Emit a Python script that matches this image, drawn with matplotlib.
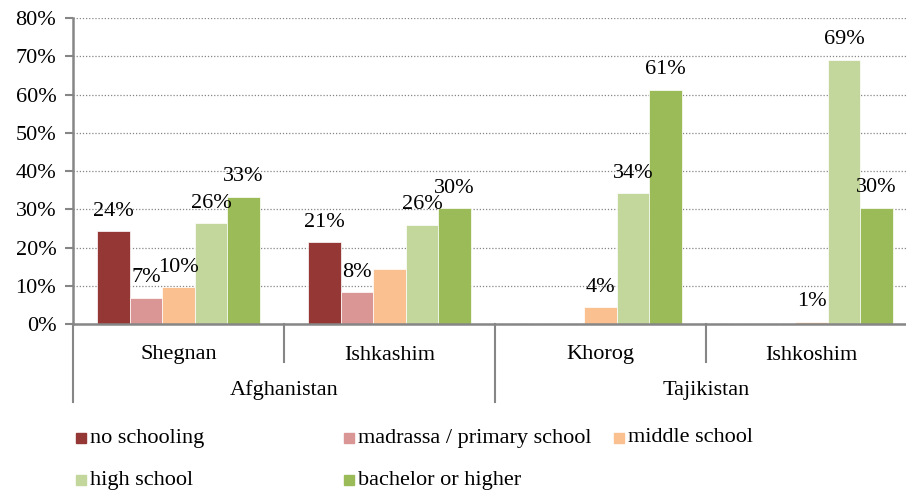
import matplotlib.pyplot as plt
from matplotlib.patches import Rectangle
from matplotlib.ticker import FuncFormatter
import numpy as np

plt.rcParams['font.family'] = ['Liberation Serif', 'DejaVu Serif']

countries = ["Afghanistan", "Tajikistan"]
districts = ["Shegnan", "Ishkashim", "Khorog", "Ishkoshim"]
series = ["no schooling", "madrassa / primary school", "middle school",
          "high school", "bachelor or higher"]
colors = ["#953735", "#D99694", "#FAC090", "#C3D69B", "#9BBB59"]

# percent per district, one list per series
no_schooling = [24.3, 21.4, 0, 0]
madrassa = [6.9, 8.3, 0, 0]
middle_school = [9.7, 14.4, 4.4, 0.6]
high_school = [26.3, 26.0, 34.2, 69.1]
bachelor = [33.3, 30.2, 61.3, 30.4]
values = [no_schooling, madrassa, middle_school, high_school, bachelor]

# which data labels are shown in the original
show_label = [
    [True, True, False, False],
    [True, True, False, False],
    [True, False, True, True],
    [True, True, True, True],
    [True, True, True, True],
]

W, H = 906, 493
fig = plt.figure(figsize=(W / 100, H / 100), dpi=100)
x0, x1, y0, y1 = 73, 917, 324, 18
ax = fig.add_axes([x0 / W, 1 - y0 / H, (x1 - x0) / W, (y0 - y1) / H])

grey = "#868686"
bw = 0.154
x = np.arange(len(districts))
for i, (vals, col) in enumerate(zip(values, colors)):
    pos = x + (i - 2) * bw
    ax.bar(pos, vals, width=bw, color=col, edgecolor="white", linewidth=0.5, zorder=3)
    for p, v, s in zip(pos, vals, show_label[i]):
        if s:
            ax.annotate(f"{round(v)}%", (p, v), xytext=(0, 11), textcoords="offset points",
                        ha="center", va="baseline", fontsize=16, zorder=4)

ax.set_xlim(-0.5, len(districts) - 0.5)
ax.set_ylim(0, 80)
ax.set_yticks(np.arange(0, 81, 10))
ax.yaxis.set_major_formatter(FuncFormatter(lambda v, _: f"{v:.0f}%"))
ax.tick_params(axis="y", length=6, width=1.5, color=grey, labelsize=16, pad=6)
ax.set_xticks([])
ax.yaxis.grid(True, linestyle=(0, (1, 1.5)), color=grey, linewidth=0.9, zorder=0)
for name in ["top", "right"]:
    ax.spines[name].set_visible(False)
for name in ["left", "bottom"]:
    ax.spines[name].set_color(grey)
    ax.spines[name].set_linewidth(1.8)
ax.spines["bottom"].set_zorder(5)

# multi-level category axis below the plot
trans = ax.get_xaxis_transform()


def ypix(yp):
    return -(yp - y0) / (y0 - y1)


for k, d in enumerate(districts):
    ax.text(k, ypix(355), d, transform=trans, ha="center", va="center", fontsize=16)
for k in [0.5, 2.5]:
    ax.plot([k, k], [0, ypix(362)], transform=trans, color=grey, lw=1.5, clip_on=False)
for k in [-0.5, 1.5, 3.5]:
    ax.plot([k, k], [0, ypix(402)], transform=trans, color=grey, lw=1.5, clip_on=False)
for k, c in enumerate(countries):
    ax.text(2 * k + 0.5, ypix(390), c, transform=trans, ha="center", va="center", fontsize=16)

# legend laid out like the original (row-major, fixed columns)
legend_xy = [(76, 438), (344, 438), (614, 438), (76, 480), (344, 480)]
for (lx, ly), name, col in zip(legend_xy, series, colors):
    fig.add_artist(Rectangle((lx / W, 1 - (ly + 5) / H), 10 / W, 10 / H,
                             transform=fig.transFigure, color=col))
    fig.text((lx + 14) / W, 1 - ly / H, name, ha="left", va="center", fontsize=16)

fig.savefig("out.png", dpi=100)
